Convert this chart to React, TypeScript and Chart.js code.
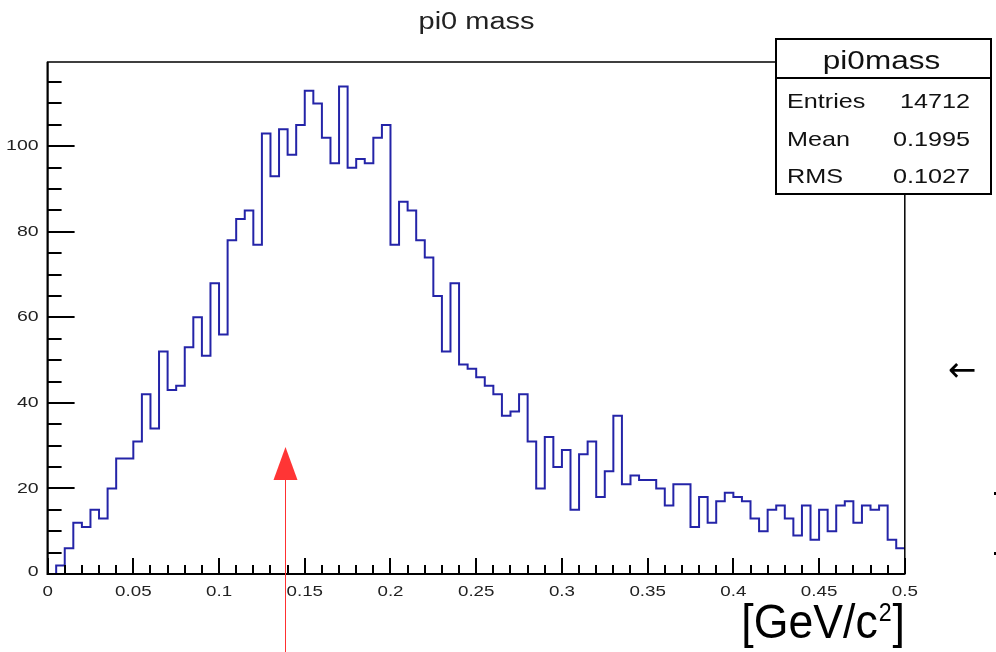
import React, { useEffect, useRef } from 'react';
import { Chart, registerables } from 'chart.js';

Chart.register(...registerables);

// ---- data ----
const binLow = 0;
const binHigh = 0.5;
const counts = [
  0, 2, 6, 12, 11, 15, 13, 20, 27, 27,
  31, 42, 34, 52, 43, 44, 53, 60, 51, 68,
  56, 78, 83, 85, 77, 103, 93, 104, 98, 105,
  113, 110, 102, 96, 114, 95, 97, 96, 102, 105,
  77, 87, 85, 78, 74, 65, 52, 68, 49, 48,
  46, 44, 42, 37, 38, 42, 31, 20, 32, 25,
  29, 15, 28, 31, 18, 24, 37, 21, 23, 22,
  22, 20, 16, 21, 21, 11, 18, 12, 17, 19,
  18, 17, 13, 10, 15, 16, 13, 9, 16, 8,
  15, 10, 16, 17, 12, 16, 15, 16, 8, 6,
];
const xTickValues = [0, 0.05, 0.1, 0.15, 0.2, 0.25, 0.3, 0.35, 0.4, 0.45, 0.5];
const xTickLabels = ['0', '0.05', '0.1', '0.15', '0.2', '0.25', '0.3', '0.35', '0.4', '0.45', '0.5'];
const yTickValues = [0, 20, 40, 60, 80, 100];
const yTickLabels = ['0', '20', '40', '60', '80', '100'];
const yMax = 119.7;
const titleText = 'pi0 mass';
const statsTitle = 'pi0mass';
const statsNames = ['Entries', 'Mean', 'RMS'];
const statsValues = ['14712', '0.1995', '0.1027'];
const arrowValue = 0.1383;

const FONT = '"Liberation Sans", Arial, Helvetica, sans-serif';

function stretchedText(
  ctx: CanvasRenderingContext2D,
  text: string,
  x: number,
  y: number,
  size: number,
  align: CanvasTextAlign,
  baseline: CanvasTextBaseline,
  sx: number,
  color = '#111'
) {
  ctx.save();
  ctx.translate(x, y);
  ctx.scale(sx, 1);
  ctx.font = `${size}px ${FONT}`;
  ctx.textAlign = align;
  ctx.textBaseline = baseline;
  ctx.fillStyle = color;
  ctx.fillText(text, 0, 0);
  ctx.restore();
}

const rootPlugin = {
  id: 'rootStyle',
  afterDatasetsDraw(chart: any) {
    const ctx: CanvasRenderingContext2D = chart.ctx;
    const xs = chart.scales.x;
    const ys = chart.scales.y;
    const { left, right, top, bottom } = chart.chartArea;
    ctx.save();

    // frame
    ctx.strokeStyle = '#000';
    ctx.lineWidth = 1.5;
    ctx.strokeRect(left, top, right - left, bottom - top);
    ctx.lineWidth = 2;
    ctx.beginPath();
    ctx.moveTo(left, top);
    ctx.lineTo(left, bottom);
    ctx.lineTo(right, bottom);
    ctx.stroke();

    // y ticks (inward)
    ctx.lineWidth = 2;
    for (let v = 0; v <= yMax; v += 5) {
      const py = Math.round(ys.getPixelForValue(v));
      const major = v % 20 === 0;
      ctx.beginPath();
      ctx.moveTo(left, py);
      ctx.lineTo(left + (major ? 27 : 14), py);
      ctx.stroke();
    }
    // x ticks (inward)
    for (let i = 0; i <= 50; i++) {
      const v = binLow + i * 0.01;
      const px = Math.round(xs.getPixelForValue(v));
      const major = i % 5 === 0;
      ctx.beginPath();
      ctx.moveTo(px, bottom);
      ctx.lineTo(px, bottom - (major ? 16 : 9));
      ctx.stroke();
    }

    // tick labels
    yTickValues.forEach((v, i) => {
      const py = ys.getPixelForValue(v);
      stretchedText(ctx, yTickLabels[i], left - 9, i === 0 ? py - 2 : py, 15, 'right', 'middle', 1.3, '#222');
    });
    xTickValues.forEach((v, i) => {
      const px = xs.getPixelForValue(v);
      stretchedText(ctx, xTickLabels[i], px, bottom + 22, 15, 'center', 'alphabetic', 1.25, '#222');
    });

    // title
    stretchedText(ctx, titleText, 476.5, 29, 23, 'center', 'alphabetic', 1.26, '#222');

    // stats box
    const bx = 776, by = 39, bw = 215, bh = 155;
    ctx.fillStyle = '#fff';
    ctx.fillRect(bx, by, bw, bh);
    ctx.lineWidth = 2;
    ctx.strokeStyle = '#000';
    ctx.strokeRect(bx, by, bw, bh);
    ctx.beginPath();
    ctx.moveTo(bx, 78);
    ctx.lineTo(bx + bw, 78);
    ctx.stroke();
    stretchedText(ctx, statsTitle, bx + bw / 2 - 2, 68.5, 25, 'center', 'alphabetic', 1.26, '#111');
    const rowY = [108, 146, 183];
    statsNames.forEach((n, i) => {
      stretchedText(ctx, n, 787, rowY[i], 21, 'left', 'alphabetic', 1.2, '#111');
      stretchedText(ctx, statsValues[i], 970, rowY[i], 21, 'right', 'alphabetic', 1.2, '#111');
    });

    // axis title [GeV/c^2]
    ctx.fillStyle = '#000';
    ctx.textBaseline = 'alphabetic';
    ctx.textAlign = 'left';
    const mainF = `48px ${FONT}`;
    const supF = `25px ${FONT}`;
    ctx.font = mainF;
    const p1 = '[GeV/c';
    const p3 = ']';
    const w1 = ctx.measureText(p1).width;
    const w3 = ctx.measureText(p3).width;
    ctx.font = supF;
    const w2 = ctx.measureText('2').width;
    const sx = 0.93;
    const total = (w1 + w2 + 2 + w3) * sx;
    ctx.save();
    ctx.translate(905 - total, 638);
    ctx.scale(sx, 1);
    ctx.font = mainF;
    ctx.fillText(p1, 0, 0);
    ctx.font = supF;
    ctx.fillText('2', w1 + 1, -17);
    ctx.font = mainF;
    ctx.fillText(p3, w1 + w2 + 2, 0);
    ctx.restore();

    // red arrow annotation
    const ax = Math.round(xs.getPixelForValue(arrowValue)) + 0.5;
    ctx.strokeStyle = '#ff3030';
    ctx.fillStyle = '#ff3535';
    ctx.lineWidth = 1;
    ctx.beginPath();
    ctx.moveTo(ax, 478);
    ctx.lineTo(ax, 652);
    ctx.stroke();
    ctx.beginPath();
    ctx.moveTo(ax, 447);
    ctx.lineTo(ax + 12, 480);
    ctx.lineTo(ax - 12, 480);
    ctx.closePath();
    ctx.fill();

    // stray marks at right edge
    ctx.fillStyle = '#000';
    ctx.font = `34px "DejaVu Sans", sans-serif`;
    ctx.textAlign = 'center';
    ctx.textBaseline = 'middle';
    ctx.fillText('\u2190', 962, 372);
    ctx.fillRect(994, 492, 3, 3);
    ctx.fillRect(994, 552, 3, 3);

    ctx.restore();
  },
};

export default function App() {
  const ref = useRef<HTMLCanvasElement | null>(null);

  useEffect(() => {
    if (!ref.current) return;
    const w = (binHigh - binLow) / counts.length;
    const points = counts.map((c, i) => ({ x: binLow + i * w, y: c }));
    points.push({ x: binHigh, y: counts[counts.length - 1] });

    const chart = new Chart(ref.current, {
      type: 'line',
      data: {
        datasets: [
          {
            data: points,
            stepped: 'before',
            borderColor: '#2424a8',
            borderWidth: 2,
            pointRadius: 0,
            fill: false,
          } as any,
        ],
      },
      options: {
        animation: false,
        responsive: false,
        maintainAspectRatio: false,
        layout: { padding: { left: 47.6, right: 996 - 904.8, top: 62, bottom: 652 - 574 } },
        plugins: {
          legend: { display: false },
          tooltip: { enabled: false },
          title: { display: false },
        },
        scales: {
          x: { type: 'linear', min: binLow, max: binHigh, display: false },
          y: { type: 'linear', min: 0, max: yMax, display: false },
        },
      },
      plugins: [rootPlugin],
    });
    return () => chart.destroy();
  }, []);

  return (
    <div style={{ position: 'absolute', left: 0, top: 0, width: 996, height: 652, background: '#fff' }}>
      <canvas ref={ref} width={996} height={652} style={{ display: 'block', width: 996, height: 652 }} />
    </div>
  );
}
